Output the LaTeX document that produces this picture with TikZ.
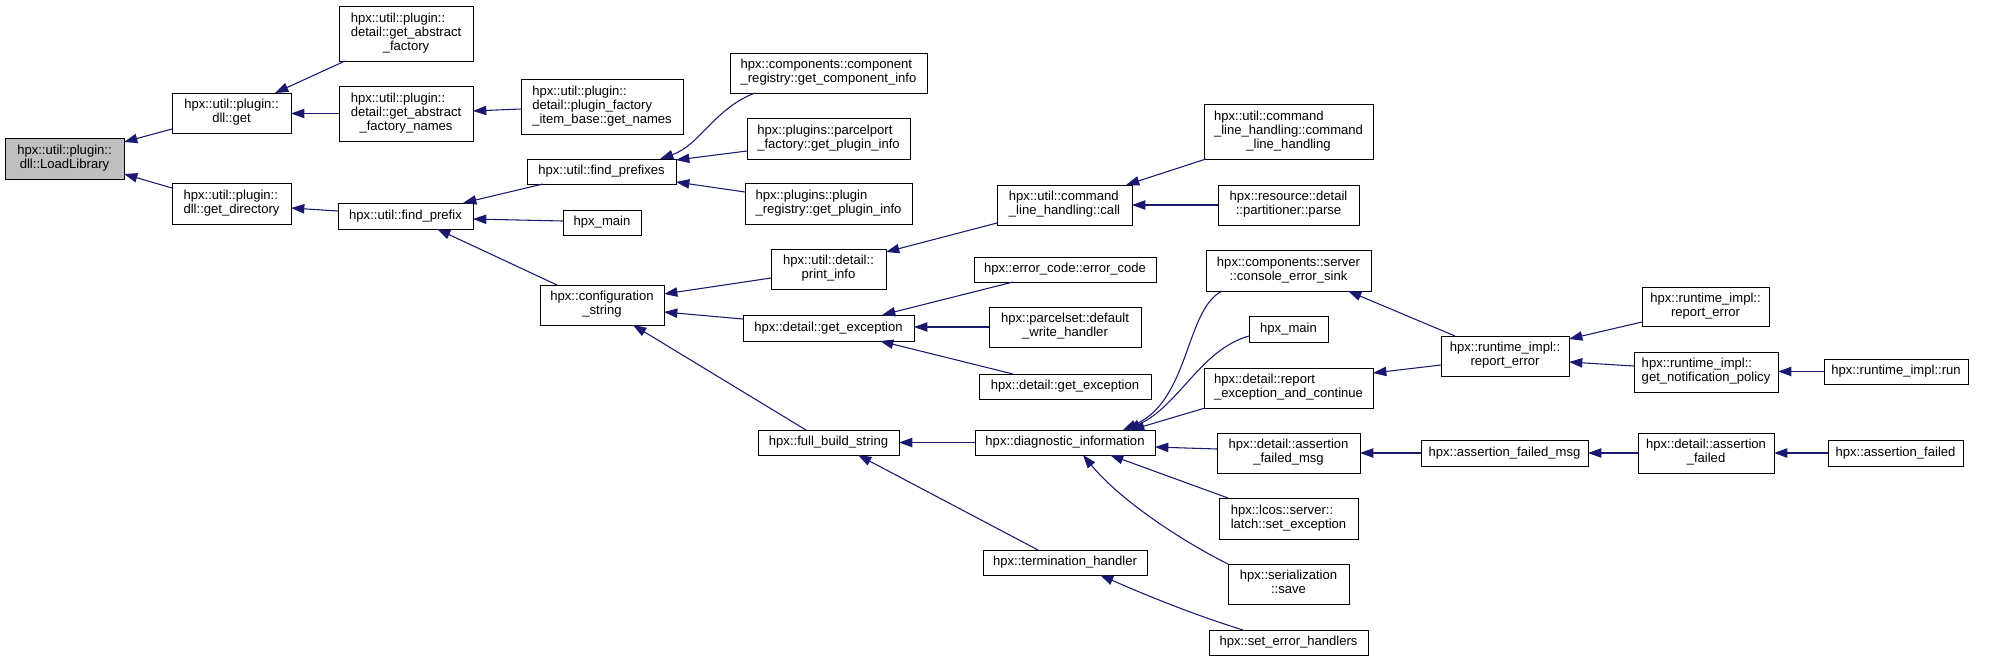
\documentclass[tikz,border=0pt]{standalone}
\usepackage{fontspec}
\setmainfont{Liberation Sans}
\usetikzlibrary{arrows.meta,calc}
\definecolor{edgeblue}{HTML}{191970}
\definecolor{hilite}{HTML}{BFBFBF}
\newcommand\ml[2]{\begin{tabular}{@{}l@{}}#1\\\multicolumn{1}{@{}c@{}}{#2}\end{tabular}}
\newcommand\bx[7][]{\node[box,#1,minimum width={(#5-#3)*0.75pt},minimum height={(#6-#4)*0.75pt}] (#2) at ({(#3+#5)/2},{(#4+#6)/2}) {#7};}
\tikzset{
  box/.style={draw=black,fill=white,line width=0.75pt,inner sep=0pt,outer sep=0pt,
    font=\fontsize{9.8pt}{10.5pt}\selectfont},
  edge/.style={draw=edgeblue,line width=0.8pt,-{Triangle[length=10pt,width=7pt]},fill=none},
}
\begin{document}
\begin{tikzpicture}[x=0.75pt,y=-0.75pt]
\useasboundingbox (0,0) rectangle (1997,661);
% nodes
\bx[fill=hilite]{LL}{5}{138}{124}{179}{\ml{hpx::util::plugin::}{dll::LoadLibrary}}
\bx{get}{172}{93}{291}{133}{\ml{hpx::util::plugin::}{dll::get}}
\bx{getdir}{172}{183}{291}{224}{\ml{hpx::util::plugin::}{dll::get\_directory}}
\bx{gaf}{339}{6}{473}{61}{\ml{hpx::util::plugin::\\detail::get\_abstract}{\_factory}}
\bx{gafn}{339}{86}{473}{141}{\ml{hpx::util::plugin::\\detail::get\_abstract}{\_factory\_names}}
\bx{fp}{338}{203}{473}{229}{hpx::util::find\_prefix}
\bx{gn}{521}{79}{683}{134}{\ml{hpx::util::plugin::\\detail::plugin\_factory}{\_item\_base::get\_names}}
\bx{fps}{527}{159}{676}{184}{hpx::util::find\_prefixes}
\bx{mainA}{563}{210}{641}{235}{hpx\_main}
\bx{cs}{540}{285}{664}{325}{\ml{hpx::configuration}{\_string}}
\bx{cr}{730}{53}{927}{93}{\ml{hpx::components::component}{\_registry::get\_component\_info}}
\bx{pf}{747}{118}{910}{159}{\ml{hpx::plugins::parcelport}{\_factory::get\_plugin\_info}}
\bx{pr}{745}{183}{912}{224}{\ml{hpx::plugins::plugin}{\_registry::get\_plugin\_info}}
\bx{pi}{771}{249}{886}{289}{\ml{hpx::util::detail::}{print\_info}}
\bx{ge}{743}{315}{914}{341}{hpx::detail::get\_exception}
\bx{fbs}{758}{430}{899}{455}{hpx::full\_build\_string}
\bx{clc}{997}{185}{1132}{225}{\ml{hpx::util::command}{\_line\_handling::call}}
\bx{clh}{1204}{104}{1373}{159}{\ml{hpx::util::command\\\_line\_handling::command}{\_line\_handling}}
\bx{pp}{1218}{185}{1359}{225}{\ml{hpx::resource::detail}{::partitioner::parse}}
\bx{ec}{974}{257}{1156}{282}{hpx::error\_code::error\_code}
\bx{dwh}{989}{307}{1141}{347}{\ml{hpx::parcelset::default}{\_write\_handler}}
\bx{geB}{979}{374}{1151}{399}{hpx::detail::get\_exception}
\bx{di}{975}{430}{1155}{455}{hpx::diagnostic\_information}
\bx{th}{983}{550}{1147}{575}{hpx::termination\_handler}
\bx{ces}{1206}{250}{1371}{291}{\ml{hpx::components::server}{::console\_error\_sink}}
\bx{mainB}{1249}{316}{1328}{342}{hpx\_main}
\bx{rec}{1204}{368}{1373}{408}{\ml{hpx::detail::report}{\_exception\_and\_continue}}
\bx{afm}{1217}{433}{1360}{473}{\ml{hpx::detail::assertion}{\_failed\_msg}}
\bx{lse}{1219}{498}{1358}{539}{\ml{hpx::lcos::server::}{latch::set\_exception}}
\bx{ss}{1228}{564}{1349}{604}{\ml{hpx::serialization}{::save}}
\bx{seh}{1209}{630}{1368}{655}{hpx::set\_error\_handlers}
\bx{re}{1441}{336}{1569}{376}{\ml{hpx::runtime\_impl::}{report\_error}}
\bx{hafm}{1421}{440}{1588}{466}{hpx::assertion\_failed\_msg}
\bx{reB}{1642}{287}{1769}{326}{\ml{hpx::runtime\_impl::}{report\_error}}
\bx{gnp}{1634}{352}{1778}{392}{\ml{hpx::runtime\_impl::}{get\_notification\_policy}}
\bx{run}{1824}{359}{1968}{384}{hpx::runtime\_impl::run}
\bx{daf}{1638}{433}{1774}{473}{\ml{hpx::detail::assertion}{\_failed}}
\bx{af}{1828}{440}{1963}{466}{hpx::assertion\_failed}
% edges
\draw[edge] ($(get.west)+(0,16)$) -- ($(LL.east)+(0,-16.5)$);
\draw[edge] ($(getdir.west)+(0,-15.5)$) -- ($(LL.east)+(0,15.5)$);
\draw[edge] ($(gaf.south west)+(6,0)$) -- ($(get.north east)+(-16,0)$);
\draw[edge] (gafn.west) -- (gafn.west -| get.east);
\draw[edge] ($(gn.west)+(0,2.5)$) -- ($(gafn.east)+(0,-2.5)$);
\draw[edge] ($(fp.west)+(0,-5)$) -- ($(getdir.east)+(0,4.5)$);
\draw[edge] ($(fps.south west)+(16,0)$) -- ($(fp.north east)+(-10,0)$);
\draw[edge] ($(mainA.west)+(0,-1.5)$) -- ($(fp.east)+(0,3)$);
\draw[edge] ($(cs.north west)+(17,0)$) -- ($(fp.south east)+(-36,0)$);
\draw[edge] ($(cr.south west)+(25,0)$) .. controls ($(cr.south west)+(-15,15)$) and ($(fps.north east)+(24,-14)$) .. ($(fps.north east)+(-16,0)$);
\draw[edge] ($(pf.west)+(0,12.5)$) -- ($(fps.east)+(0,-11.5)$);
\draw[edge] ($(pr.west)+(0,-11.5)$) -- ($(fps.east)+(0,10.5)$);
\draw[edge] ($(pi.west)+(0,9)$) -- ($(cs.east)+(0,-11)$);
\draw[edge] ($(ge.west)+(0,-9)$) -- ($(cs.east)+(0,7)$);
\draw[edge] ($(fbs.north)+(-22.5,0)$) -- ($(cs.south east)+(-31,0)$);
\draw[edge] ($(clc.south west)+(0,-2)$) -- ($(pi.north east)+(0,3)$);
\draw[edge] ($(clh.south west)+(2,0)$) -- ($(clc.north east)+(-6,0)$);
\draw[edge] (pp.west) -- (pp.west -| clc.east);
\draw[edge] ($(ec.south west)+(39,0)$) -- ($(ge.north east)+(-32,0)$);
\draw[edge] (dwh.west) -- (dwh.west -| ge.east);
\draw[edge] ($(geB.north west)+(34,0)$) -- ($(ge.south east)+(-34,0)$);
\draw[edge] (di.west) -- (di.west -| fbs.east);
\draw[edge] ($(th.north west)+(55,0)$) -- ($(fbs.south east)+(-41,0)$);
\draw[edge] ($(ces.south west)+(16,0)$) .. controls ($(ces.south west)+(-21,19)$) and ($(di.north east)+(35,-30)$) .. ($(di.north east)+(-32,0)$);
\draw[edge] ($(mainB.south west)+(0,-6)$) .. controls ($(mainB.south west)+(-49,8)$) and ($(di.north east)+(25,-25)$) .. ($(di.north east)+(-28,0)$);
\draw[edge] ($(rec.south west)+(1,0)$) -- ($(di.north east)+(-24,0)$);
\draw[edge] ($(afm.west)+(0,-4)$) -- ($(di.east)+(0,4.5)$);
\draw[edge] ($(lse.north west)+(9,0)$) -- ($(di.south east)+(-45,0)$);
\draw[edge] (ss.north west) .. controls ($(ss.north west)+(-48,-24)$) and ($(di.south east)+(-35,45)$) .. ($(di.south east)+(-72,0)$);
\draw[edge] ($(seh.north west)+(34,0)$) .. controls ($(seh.north west)+(-14,-15)$) and ($(th.south east)+(3,22)$) .. ($(th.south east)+(-47,0)$);
\draw[edge] ($(re.north west)+(14,0)$) -- ($(ces.south east)+(-23,0)$);
\draw[edge] ($(re.west)+(0,9)$) -- ($(rec.east)+(0,-15)$);
\draw[edge] ($(reB.west)+(0,15.5)$) -- ($(re.east)+(0,-17)$);
\draw[edge] ($(gnp.west)+(0,-6)$) -- ($(re.east)+(0,6)$);
\draw[edge] (run.west) -- (run.west -| gnp.east);
\draw[edge] (hafm.west) -- (hafm.west -| afm.east);
\draw[edge] (daf.west) -- (daf.west -| hafm.east);
\draw[edge] (af.west) -- (af.west -| daf.east);
\end{tikzpicture}
\end{document}
